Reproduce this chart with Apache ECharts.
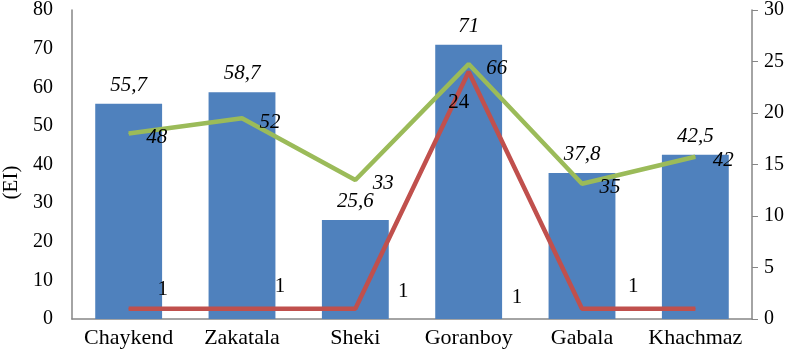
<!DOCTYPE html>
<html>
<head>
    <meta charset="utf-8">
    <title>EI chart</title>
</head>
<body style="margin:0;background:#fff;">
<div id="main" style="width: 793px;height:359px;"></div>

<script src="https://cdn.jsdelivr.net/npm/echarts@6/dist/echarts.min.js"></script>
<script>
// data
var categories = ['Chaykend', 'Zakatala', 'Sheki', 'Goranboy', 'Gabala', 'Khachmaz'];
var barValues = [55.7, 58.7, 25.6, 71, 37.8, 42.5];
var greenValues = [48, 52, 36, 66, 35, 42];
var greenLabels = ['48', '52', '33', '66', '35', '42'];
var redValues = [1, 1, 1, 24, 1, 1];
var leftTicks = [0, 80, 10];
var rightTicks = [0, 30, 5];

var serif = 'Liberation Serif';
var myChart = echarts.init(document.getElementById('main'));

// label offsets of the red series (as in the picture)
var redOffsets = [[34, -19], [38, -22], [48, -17], [-10, 31], [-65, -11], [-62, -22]];

var option = {
    backgroundColor: '#fff',
    animation: false,
    grid: { left: 72, right: 41, top: 10, bottom: 40, containLabel: false, outerBoundsMode: 'none' },
    xAxis: {
        type: 'category',
        data: categories,
        axisLine: { lineStyle: { color: '#868686', width: 1.5 } },
        axisTick: { show: false },
        axisLabel: { color: '#000', fontFamily: serif, fontSize: 22, margin: 8, interval: 0 }
    },
    yAxis: [
        {
            type: 'value',
            min: leftTicks[0], max: leftTicks[1], interval: leftTicks[2],
            name: '(EI)',
            nameLocation: 'middle',
            nameGap: 48,
            nameTextStyle: { color: '#000', fontFamily: serif, fontSize: 21, padding: [0, 36, 0, 0] },
            axisLine: { show: true, lineStyle: { color: '#868686', width: 1.5 } },
            axisTick: { show: false },
            splitLine: { show: false },
            axisLabel: { color: '#000', fontFamily: serif, fontSize: 20, margin: 19 }
        },
        {
            type: 'value',
            min: rightTicks[0], max: rightTicks[1], interval: rightTicks[2],
            axisLine: { show: true, lineStyle: { color: '#868686', width: 1.5 } },
            axisTick: { show: true, length: 6, lineStyle: { color: '#868686' } },
            splitLine: { show: false },
            axisLabel: { color: '#000', fontFamily: serif, fontSize: 20, margin: 12 }
        }
    ],
    series: [
        {
            type: 'bar',
            data: barValues,
            barWidth: '59%',
            itemStyle: { color: '#4F81BD' },
            label: {
                show: true,
                position: 'top',
                distance: 8,
                color: '#000',
                fontFamily: serif,
                fontStyle: 'italic',
                fontSize: 21,
                formatter: function (p) { return String(p.value).replace('.', ','); }
            }
        },
        {
            type: 'line',
            data: greenValues,
            yAxisIndex: 0,
            symbol: 'circle',
            symbolSize: 1,
            lineStyle: { color: '#9BBB59', width: 4.5 },
            itemStyle: { color: '#9BBB59' },
            label: {
                show: true,
                position: 'right',
                distance: 17,
                offset: [0, 4],
                color: '#000',
                fontFamily: serif,
                fontStyle: 'italic',
                fontSize: 21,
                formatter: function (p) { return greenLabels[p.dataIndex]; }
            }
        },
        {
            type: 'line',
            data: redValues.map(function (v, i) {
                return { value: v, label: { offset: redOffsets[i] } };
            }),
            yAxisIndex: 1,
            symbol: 'circle',
            symbolSize: 1,
            lineStyle: { color: '#C0504D', width: 4.5 },
            itemStyle: { color: '#C0504D' },
            label: {
                show: true,
                position: 'inside',
                color: '#000',
                fontFamily: serif,
                fontSize: 21
            }
        }
    ]
};

myChart.setOption(option);
window.addEventListener('resize', function () {
    myChart.resize();
});
</script>
</body>
</html>
